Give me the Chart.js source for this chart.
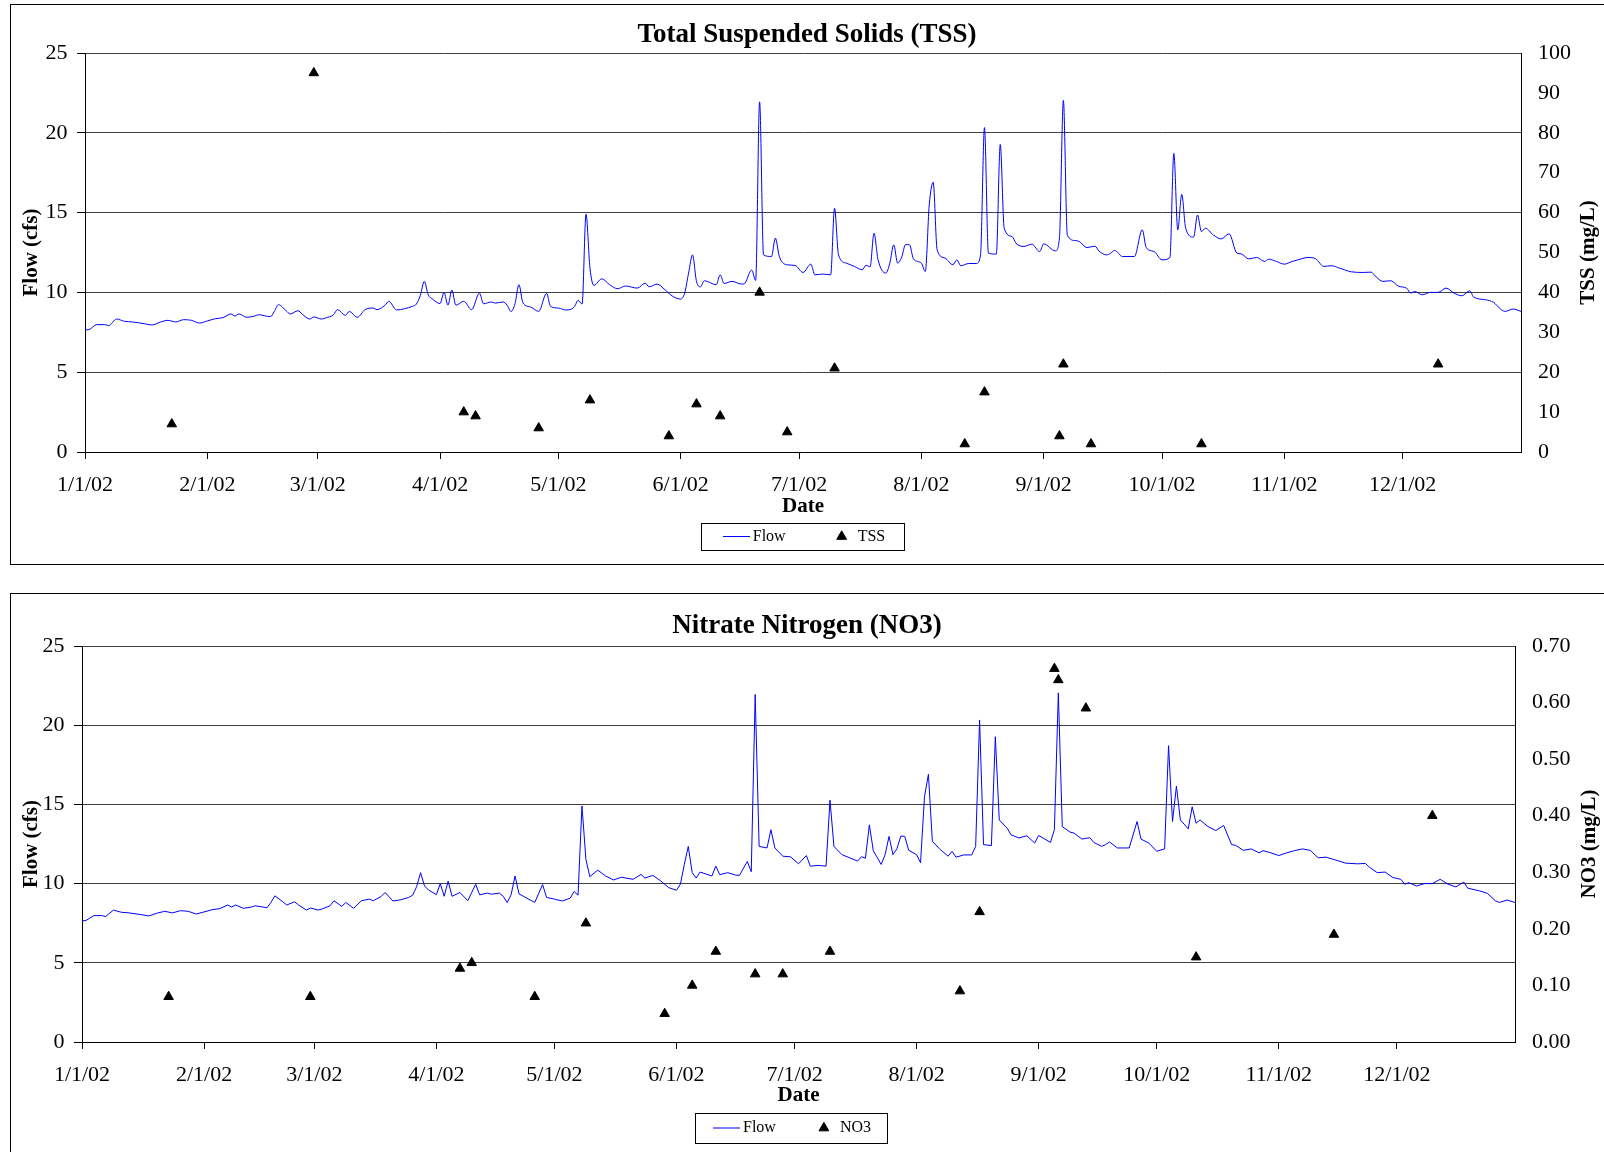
<!DOCTYPE html>
<html lang="en">
<head>
<meta charset="UTF-8" />
<title>Flow with TSS and NO3 samples, 2002</title>
<script src="https://cdn.jsdelivr.net/npm/chart.js@4"></script>
<style>
  body { margin: 0; width: 1604px; height: 1152px; overflow: hidden; background: #fff; position: relative; }
  .frame { position: absolute; left: 10px; width: 1700px; border: 1px solid #000; }
  #frameTop { top: 4px; height: 559px; }
  #frameBottom { top: 593px; height: 700px; }
  canvas { position: absolute; left: 10px; }
  #tssChart { top: 4px; }
  #no3Chart { top: 593px; }
</style>
</head>
<body>
<div class="frame" id="frameTop"></div>
<div class="frame" id="frameBottom"></div>
<canvas id="tssChart" width="1594" height="560"></canvas>
<canvas id="no3Chart" width="1594" height="559"></canvas>

<script>
// day of year (0 = 1/1/02)
const monthStarts = [0, 31, 59, 90, 120, 151, 181, 212, 243, 273, 304, 334];
const monthLabels = ['1/1/02', '2/1/02', '3/1/02', '4/1/02', '5/1/02', '6/1/02',
                     '7/1/02', '8/1/02', '9/1/02', '10/1/02', '11/1/02', '12/1/02'];

// daily flow
const flowDays = [0,1,3,5,6,8,10,12,15,17,19,21,23,25,27,29,31,33,35,37,38,39,41,43,44,47,48,49,51,52,
  54,55,57,58,60,61,63,64,66,67,69,71,73,74,76,77,79,81,83,84,85,86,87,88,90,91,92,93,94,96,98,100,101,
  103,104,106,107,108,109,110,111,113,115,117,118,120,122,124,125,126,127,128,129,131,133,135,137,140,
  142,143,145,147,149,151,152,153,154,155,156,157,160,161,162,164,166,167,169,170,171,172,174,175,176,
  178,180,182,184,185,187,189,190,191,193,195,197,198,199,200,201,203,204,205,206,207,208,209,210,212,
  213,214,215,216,218,220,221,222,224,226,227,228,229,231,232,233,235,236,238,240,242,243,246,247,248,
  249,251,252,254,256,257,259,260,261,263,266,268,269,271,273,275,276,277,278,279,281,282,283,284,286,
  288,290,292,293,295,297,299,300,302,304,306,308,310,312,314,316,318,321,324,326,327,329,331,333,335,
  336,337,339,341,343,345,347,349,351,352,355,357,359,360,362,364];
const flowCfs = [7.65,7.67,7.98,7.98,7.92,8.33,8.19,8.15,8.04,7.96,8.13,8.25,8.15,8.29,8.25,8.08,8.21,
  8.35,8.42,8.65,8.52,8.65,8.44,8.52,8.6,8.48,8.81,9.23,8.85,8.65,8.85,8.65,8.33,8.46,8.33,8.4,8.6,8.92,
  8.56,8.81,8.44,8.92,9.02,8.92,9.19,9.44,8.9,8.98,9.13,9.27,9.81,10.69,9.85,9.6,9.3,10.0,9.2,10.15,9.2,
  9.44,8.92,9.96,9.29,9.4,9.33,9.4,9.2,8.8,9.3,10.48,9.35,9.08,8.81,9.94,9.13,9.02,8.9,9.08,9.5,9.27,
  14.9,11.52,10.44,10.85,10.48,10.23,10.4,10.27,10.58,10.35,10.52,10.17,9.75,9.58,9.96,11.21,12.35,
  10.69,10.35,10.73,10.48,11.1,10.56,10.69,10.54,10.52,11.4,10.75,21.94,12.35,12.25,13.4,12.25,11.73,
  11.69,11.25,11.77,11.1,11.15,11.1,15.27,12.35,11.83,11.63,11.42,11.7,11.6,13.71,12.08,11.21,11.83,
  12.98,11.83,12.2,13.0,12.98,12.1,11.83,11.31,15.48,16.9,12.67,12.15,11.73,12.04,11.67,11.81,11.81,
  12.35,20.33,12.46,12.4,19.27,14.02,13.5,13.08,12.88,13.02,12.56,13.04,12.6,13.4,22.04,13.6,13.25,
  13.19,12.81,12.9,12.6,12.35,12.46,12.63,12.25,12.25,13.92,12.81,12.56,12.04,12.19,18.71,13.92,16.15,
  14.02,13.46,14.85,13.81,14.02,13.6,13.35,13.67,12.46,12.42,12.1,12.19,11.94,12.08,11.94,11.77,11.94,
  12.08,12.19,12.1,11.63,11.67,11.52,11.29,11.25,11.27,11.04,10.69,10.73,10.38,10.27,9.96,10.06,9.85,
  10.0,10.0,10.27,9.96,9.79,10.1,9.71,9.54,9.38,8.92,8.81,8.96,8.81];

// grab samples
const tssDays = [22, 58, 96, 99, 115, 128, 148, 155, 161, 171, 178, 190, 223, 228, 247, 248, 255, 283, 343];
const tssMgL  = [7, 95, 10, 9, 6, 13, 4, 12, 9, 40, 5, 21, 2, 15, 4, 22, 2, 2, 22];

const no3Days = [22, 58, 96, 99, 115, 128, 148, 155, 161, 171, 178, 190, 223, 228, 247, 248, 255, 283, 318, 343];
const no3MgL  = [0.08, 0.08, 0.13, 0.14, 0.08, 0.21, 0.05, 0.10, 0.16, 0.12, 0.12, 0.16, 0.09, 0.23,
                 0.66, 0.64, 0.59, 0.15, 0.19, 0.40];

const SERIF = '"Liberation Serif", "Times New Roman", serif';
Chart.defaults.font.family = SERIF;
Chart.defaults.color = '#000';

// short blue stroke used as the Flow legend symbol
const flowSwatch = document.createElement('canvas');
flowSwatch.width = 27;
flowSwatch.height = 3;
const sw = flowSwatch.getContext('2d');
sw.strokeStyle = '#0000ff';
sw.lineWidth = 1;
sw.beginPath(); sw.moveTo(0, 1.5); sw.lineTo(27, 1.5); sw.stroke();

const pts = (xs, ys) => xs.map((x, i) => ({ x: x, y: ys[i] }));

function legendLabels(chart) {
  const items = Chart.defaults.plugins.legend.labels.generateLabels(chart);
  const pads = chart.options.plugins.extras.legendPads;
  items.forEach(it => {
    it.text += ' '.repeat(pads[it.datasetIndex]);
    if (it.datasetIndex === 0) it.pointStyle = flowSwatch;
  });
  return items;
}

// right axis title (reads bottom to top) and the legend frame
const extras = {
  id: 'extras',
  afterDraw(chart, args, o) {
    const { ctx, chartArea, legend } = chart;
    ctx.save();
    ctx.fillStyle = '#000';
    ctx.font = 'bold 21px ' + SERIF;
    ctx.textAlign = 'center';
    ctx.textBaseline = 'middle';
    ctx.translate(o.titleX, (chartArea.top + chartArea.bottom) / 2);
    ctx.rotate(-Math.PI / 2);
    ctx.fillText(o.title, 0, 0);
    ctx.restore();

    const hb = legend.legendHitBoxes, items = legend.legendItems;
    const last = hb.length - 1;
    ctx.save();
    ctx.font = '16px ' + SERIF;
    const endX = hb[last].left + 24 + ctx.measureText(items[last].text.trim()).width;
    const cy = hb[0].top + hb[0].height / 2;
    const x0 = Math.round(hb[0].left - o.frameL) + 0.5;
    const x1 = Math.round(endX + o.frameR) + 0.5;
    const y0 = Math.round(cy - o.frameH / 2) + 0.5;
    ctx.strokeStyle = '#000';
    ctx.lineWidth = 1;
    ctx.strokeRect(x0, y0, x1 - x0, o.frameH);
    ctx.restore();
  }
};

function buildChart(id, o) {
  return new Chart(document.getElementById(id), {
    type: 'line',
    data: {
      datasets: [
        {
          label: 'Flow', data: pts(flowDays, flowCfs), yAxisID: 'y',
          borderColor: '#0000ff', borderWidth: 1, pointRadius: 0,
          cubicInterpolationMode: o.smooth ? 'monotone' : 'default', tension: 0, order: 1
        },
        {
          type: 'scatter', label: o.name, data: pts(o.days, o.values), yAxisID: 'y1',
          showLine: false, pointStyle: 'triangle', pointRadius: 5.5,
          backgroundColor: '#000', borderColor: '#000', borderWidth: 1, order: 0
        }
      ]
    },
    options: {
      responsive: false,
      animation: false,
      events: [],
      layout: { padding: { left: 0, right: 0, top: 0, bottom: o.padBottom } },
      plugins: {
        title: {
          display: true, text: o.title, color: '#000',
          font: { size: 27, weight: 'bold' }, padding: o.titlePad
        },
        legend: {
          position: 'bottom', reverse: true,
          labels: { usePointStyle: true, boxHeight: 8, padding: 8, font: { size: 16 }, generateLabels: legendLabels }
        },
        tooltip: { enabled: false },
        extras: o.extras
      },
      scales: {
        x: {
          type: 'linear', min: 0, max: 364,
          afterBuildTicks: s => { s.ticks = monthStarts.map(v => ({ value: v })); },
          afterFit: s => { s.height = o.xHeight; },
          ticks: { callback: (v, i) => monthLabels[i], font: { size: 22 }, padding: 12.8, maxRotation: 0, autoSkip: false },
          grid: { drawOnChartArea: false, drawTicks: true, tickLength: 7, color: '#000' },
          border: { color: '#000' },
          title: { display: true, text: 'Date', font: { size: 21, weight: 'bold' }, padding: { top: 0, bottom: o.datePad } }
        },
        y: {
          position: 'left', min: 0, max: 25,
          afterFit: s => { s.width = o.leftW; },
          ticks: { stepSize: 5, font: { size: 22 }, padding: 9.5 },
          grid: { color: '#404040', tickColor: '#000', tickLength: 8 },
          border: { color: '#000' },
          title: { display: true, text: 'Flow (cfs)', font: { size: 21, weight: 'bold' }, padding: { top: 9.2, bottom: 0 } }
        },
        y1: {
          position: 'right', min: 0, max: o.rightMax,
          afterFit: s => { s.width = o.rightW; },
          ticks: { stepSize: o.rightStep, font: { size: 22 }, padding: 17, callback: o.rightFmt },
          grid: { display: false, drawTicks: false },
          border: { color: '#000' }
        }
      }
    },
    plugins: [extras]
  });
}

buildChart('tssChart', {
  title: 'Total Suspended Solids (TSS)', name: 'TSS', days: tssDays, values: tssMgL,
  smooth: true, padBottom: 9.5, titlePad: { top: 14.8, bottom: 1.8 },
  xHeight: 68.5, datePad: 0.9, leftW: 75, rightW: 83,
  rightMax: 100, rightStep: 10, rightFmt: v => v,
  extras: { title: 'TSS (mg/L)', titleX: 1579, legendPads: [10, 0], frameL: 27.5, frameR: 19, frameH: 27 }
});

buildChart('no3Chart', {
  title: 'Nitrate Nitrogen (NO3)', name: 'NO3', days: no3Days, values: no3MgL,
  smooth: false, padBottom: 6, titlePad: { top: 16.8, bottom: 3.8 },
  xHeight: 70, datePad: 3.4, leftW: 72, rightW: 89,
  rightMax: 0.7, rightStep: 0.1, rightFmt: v => Number(v).toFixed(2),
  extras: { title: 'NO3 (mg/L)', titleX: 1580, legendPads: [8, 6], frameL: 23.5, frameR: 16, frameH: 30 }
});
</script>
</body>
</html>
